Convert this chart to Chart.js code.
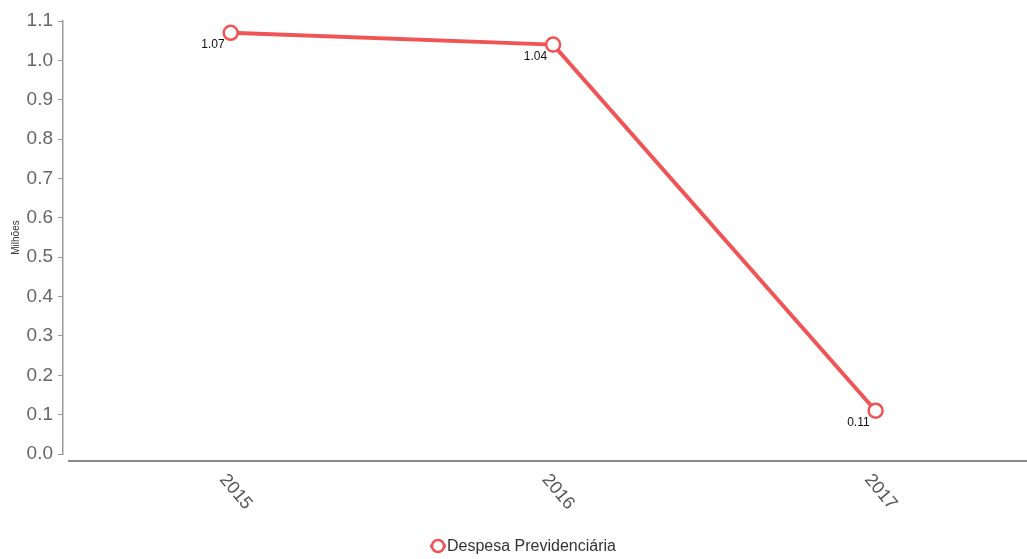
<!DOCTYPE html>
<html>
<head>
<meta charset="utf-8">
<script src="https://cdn.jsdelivr.net/npm/chart.js@4"></script>
<style>
  html, body { margin: 0; padding: 0; background: #fff; overflow: hidden; }
  canvas { display: block; }
</style>
</head>
<body>
<canvas id="chart" width="1027" height="559"></canvas>
<script>
const years = [2015, 2016, 2017];
const yearLabels = ['2015', '2016', '2017'];
const despesa = [1.07, 1.04, 0.11];
const seriesName = 'Despesa Previdenciária';
const axisTitle = 'Milhões';

const lineRed = 'rgb(240, 84, 84)';

// value labels under each point
const valueLabels = {
    id: 'valueLabels',
    afterDatasetsDraw(chart) {
        const ctx = chart.ctx;
        const meta = chart.getDatasetMeta(0);
        ctx.save();
        ctx.font = '12px "Liberation Sans"';
        ctx.fillStyle = '#111';
        ctx.textAlign = 'right';
        ctx.textBaseline = 'alphabetic';
        meta.data.forEach(function(pt, i) {
            ctx.fillText(despesa[i].toFixed(2), pt.x - 6, pt.y + 15);
        });
        ctx.restore();
    }
};

// rotated year labels, x axis line and the legend
const yearAxis = {
    id: 'yearAxis',
    afterDraw(chart) {
        const ctx = chart.ctx;
        const area = chart.chartArea;
        const xs = chart.scales.x;
        ctx.save();
        ctx.strokeStyle = '#8a8a8a';
        ctx.lineWidth = 2;
        ctx.beginPath();
        ctx.moveTo(area.left + 5, area.bottom + 7);
        ctx.lineTo(chart.width, area.bottom + 7);
        ctx.stroke();

        ctx.font = '18px "Liberation Sans"';
        ctx.fillStyle = '#555';
        ctx.textAlign = 'center';
        ctx.textBaseline = 'middle';
        years.forEach(function(y, i) {
            const px = xs.getPixelForValue(y);
            ctx.save();
            ctx.translate(px + 5, area.bottom + 38);
            ctx.rotate(50 * Math.PI / 180);
            ctx.fillText(yearLabels[i], 0, 0);
            ctx.restore();
        });

        // legend
        ctx.font = '16px "Liberation Sans"';
        const tw = ctx.measureText(seriesName).width;
        const total = 16 + tw;
        const lx = chart.width / 2 - total / 2 + 10;
        const ly = 546;
        ctx.strokeStyle = lineRed;
        ctx.lineWidth = 3;
        ctx.beginPath();
        ctx.moveTo(lx - 1, ly);
        ctx.lineTo(lx + 15, ly);
        ctx.stroke();
        ctx.fillStyle = '#fff';
        ctx.lineWidth = 2.5;
        ctx.beginPath();
        ctx.arc(lx + 7, ly, 6, 0, Math.PI * 2);
        ctx.fill();
        ctx.stroke();
        ctx.fillStyle = '#333';
        ctx.textAlign = 'left';
        ctx.fillText(seriesName, lx + 16, ly + 1);
        ctx.restore();
    }
};

const ctx = document.getElementById('chart').getContext('2d');
new Chart(ctx, {
    type: 'line',
    data: {
        datasets: [{
            label: seriesName,
            data: years.map(function(y, i) { return { x: y, y: despesa[i] }; }),
            borderColor: lineRed,
            backgroundColor: '#fff',
            borderWidth: 4,
            pointRadius: 7,
            pointHoverRadius: 7,
            pointBorderWidth: 2.5,
            pointBackgroundColor: '#fff',
            pointBorderColor: lineRed,
            tension: 0
        }]
    },
    options: {
        responsive: false,
        animation: false,
        layout: { padding: { top: 21, right: 0, bottom: 25, left: 0 } },
        plugins: {
            tooltip: { enabled: false },
            legend: { display: false }
        },
        scales: {
            x: {
                type: 'linear',
                min: 2014.48,
                max: 2017.44,
                ticks: { display: false },
                grid: { display: false },
                border: { display: false },
                afterFit(scale) { scale.height = 80; }
            },
            y: {
                min: 0,
                max: 1.1,
                ticks: {
                    stepSize: 0.1,
                    padding: 5,
                    color: '#666',
                    font: { family: 'Liberation Sans', size: 19 },
                    callback: function(v) { return v.toFixed(1); }
                },
                grid: {
                    drawOnChartArea: false,
                    tickLength: 5,
                    color: '#999'
                },
                border: { display: true, color: '#999', width: 1.5 },
                title: {
                    display: true,
                    text: axisTitle,
                    color: '#333',
                    font: { family: 'Liberation Sans', size: 10 },
                    padding: { top: 10, bottom: 0 }
                },
                afterFit(scale) { scale.width = 63; }
            }
        }
    },
    plugins: [valueLabels, yearAxis]
});
</script>
</body>
</html>
